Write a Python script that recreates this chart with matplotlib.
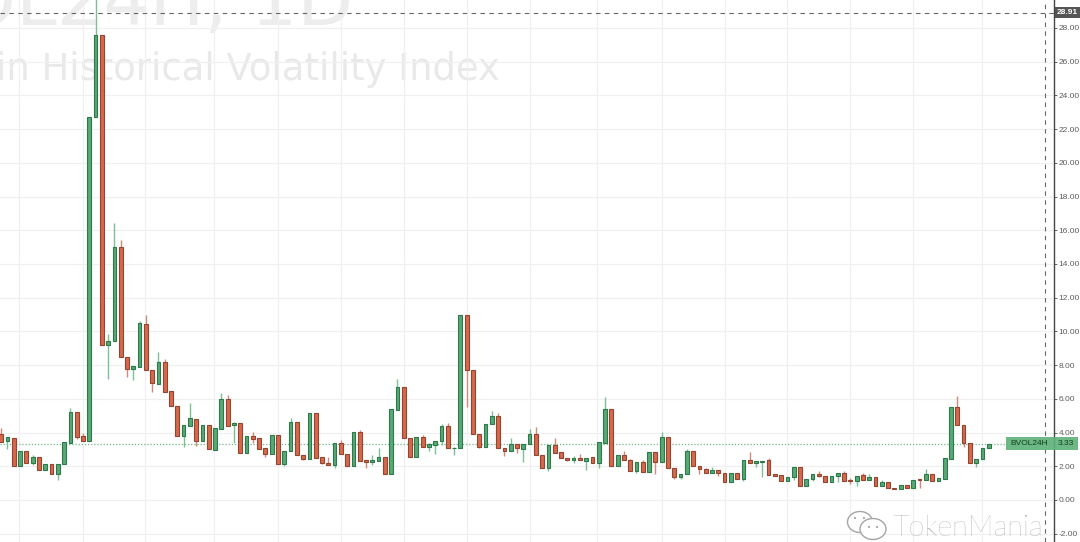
import matplotlib
matplotlib.use("Agg")
import matplotlib.pyplot as plt
from matplotlib.patches import Ellipse, Rectangle

opens = [3.92,3.48,3.70,2.04,2.93,2.22,2.57,1.80,2.12,1.54,
         2.16,3.40,5.24,3.80,3.50,22.7,27.6,9.17,9.41,15.0,
         8.46,7.77,7.89,10.44,7.73,6.90,8.16,6.45,5.60,3.82,
         4.41,4.82,3.50,4.43,2.99,4.23,5.97,4.43,4.55,2.77,
         3.80,3.66,3.07,2.73,3.84,2.12,2.93,4.65,2.67,2.45,
         5.14,2.53,2.22,2.10,3.38,2.75,2.04,4.01,2.35,2.27,
         2.31,2.53,1.56,5.36,6.68,3.70,2.55,3.76,3.16,3.28,
         3.50,4.39,3.07,3.07,10.97,7.73,3.92,3.16,4.49,4.96,
         3.10,2.91,3.30,3.05,3.32,3.92,2.65,1.92,3.24,2.83,
         2.51,2.37,2.47,2.33,2.53,2.18,3.40,5.38,2.04,2.65,
         2.38,1.74,2.24,1.69,2.83,2.28,3.72,1.88,1.39,1.53,
         2.89,2.02,1.84,1.59,1.76,1.61,1.09,1.61,1.23,2.38,
         2.18,2.28,2.36,1.53,1.47,1.15,1.39,1.98,0.85,1.23,
         1.57,1.43,1.05,1.41,1.59,1.17,1.11,1.47,1.19,1.39,
         0.83,1.05,0.70,0.66,0.87,0.70,1.25,1.21,1.57,1.15,
         1.27,2.46,5.50,4.43,3.37,2.20,2.42,3.07]
closes = [3.46,3.72,2.04,2.93,2.22,2.57,1.80,2.12,1.57,2.16,
          3.42,5.24,3.72,3.50,22.7,27.6,9.17,9.41,15.0,8.46,
          7.75,7.93,10.48,7.73,6.92,8.18,6.43,5.58,3.82,4.43,
          4.84,3.50,4.43,3.01,4.25,6.00,4.41,4.57,2.77,3.80,
          3.64,3.05,2.71,3.84,2.12,2.93,4.65,2.65,2.45,5.14,
          2.51,2.18,2.10,3.38,2.73,2.04,4.01,2.33,2.27,2.35,
          2.53,1.56,5.38,6.68,3.68,2.55,3.74,3.16,3.32,3.52,
          4.39,3.07,3.10,10.97,7.73,3.90,3.16,4.51,4.96,3.10,
          2.89,3.30,3.07,3.32,3.92,2.65,1.92,3.24,2.81,2.51,
          2.37,2.47,2.35,2.51,2.18,3.42,5.38,2.04,2.65,2.38,
          1.74,2.24,1.69,2.83,2.28,3.72,1.88,1.39,1.53,2.89,
          2.00,1.82,1.59,1.76,1.59,1.09,1.61,1.23,2.38,2.18,
          2.30,2.34,1.51,1.45,1.15,1.39,1.98,0.85,1.23,1.57,
          1.41,1.05,1.43,1.61,1.15,1.11,1.45,1.21,1.39,0.83,
          1.05,0.70,0.66,0.87,0.70,1.21,1.21,1.57,1.15,1.29,
          2.47,5.50,4.43,3.37,2.20,2.44,3.07,3.33]
highs = [4.25,3.72,3.70,2.93,2.93,2.65,2.57,2.12,2.12,2.16,
         3.42,5.44,5.24,4.00,22.7,29.7,27.6,9.82,16.4,15.4,
         8.46,7.93,10.60,10.97,7.73,8.76,8.34,6.45,5.60,4.43,
         5.77,4.82,4.43,4.43,4.25,6.37,6.23,4.60,4.55,3.80,
         4.05,3.66,3.07,3.84,3.84,2.93,4.84,4.65,2.67,5.14,
         5.14,2.53,2.53,3.38,3.56,2.75,4.01,4.15,2.35,2.67,
         3.10,2.53,5.38,7.16,6.68,3.70,3.74,3.86,3.40,3.52,
         4.51,4.55,3.16,10.97,10.97,7.73,3.92,4.51,5.28,5.14,
         3.10,3.70,3.30,3.32,4.19,4.31,2.65,3.24,3.70,2.83,
         2.51,2.61,2.73,2.51,2.53,3.42,6.09,5.38,2.65,2.93,
         2.46,2.24,2.38,2.83,2.83,4.06,3.72,1.88,1.53,3.01,
         2.89,2.02,1.90,1.94,1.76,1.61,1.61,1.61,2.38,2.85,
         2.30,2.34,2.48,1.53,1.47,1.39,1.98,1.98,1.23,1.57,
         1.74,1.43,1.43,1.61,1.74,1.29,1.45,1.63,1.55,1.39,
         1.19,1.05,0.70,0.87,0.87,1.21,1.25,1.82,1.57,1.29,
         2.47,5.50,6.17,4.43,3.37,2.44,3.07,3.33]
lows = [3.46,3.00,2.04,2.04,2.22,2.05,1.80,1.80,1.57,1.19,
        2.16,3.40,3.60,3.50,3.50,22.7,9.17,7.20,9.41,8.46,
        7.28,7.12,7.89,7.73,6.43,6.90,6.43,5.58,3.82,3.16,
        4.41,3.20,3.50,3.01,2.99,4.23,4.41,3.36,2.77,2.77,
        3.36,3.05,2.53,2.73,2.12,2.00,2.93,2.65,2.37,2.45,
        2.51,2.12,2.10,1.88,2.73,2.04,2.04,2.33,1.88,2.08,
        2.31,1.56,1.56,5.36,3.68,2.55,2.55,3.16,2.93,2.71,
        3.24,3.07,2.67,3.07,5.50,3.90,3.10,3.16,4.49,3.10,
        2.61,2.91,2.81,2.23,3.32,2.65,1.92,1.74,2.81,2.51,
        2.29,2.18,2.35,1.78,2.18,1.92,3.40,2.04,2.04,2.38,
        1.74,1.59,1.69,1.69,1.55,2.28,1.88,1.27,1.23,1.53,
        2.00,1.53,1.59,1.59,1.43,1.09,1.09,1.23,1.15,2.18,
        1.98,1.39,1.51,1.45,1.15,1.15,1.19,0.85,0.85,1.11,
        1.35,1.05,1.05,1.05,1.15,0.95,0.83,1.21,1.19,0.83,
        0.83,0.70,0.66,0.66,0.70,0.70,0.70,1.21,1.15,1.15,
        1.27,2.46,4.43,3.17,2.20,1.98,2.42,3.07]
grid_bars = [2.9, 13, 22.9, 33.9, 44, 54, 64, 74, 84, 94.7, 105, 115, 125, 135, 145, 156]
y_ticks = list(range(-2, 29, 2))
last_value = 3.33
cursor_value = 28.91
cursor_bar = 165.9
series_name = "BVOL24H"
title_main = "BVOL24H, 1D"
title_sub = "Bitcoin Historical Volatility Index"
watermark = "TokenMania"

W, H = 1080, 542
UP, UP_EDGE, UP_WICK = "#5aa876", "#2a7a4a", "#7cc096"
DN, DN_EDGE, DN_WICK = "#d4694c", "#954430", "#d08a78"
TEXT = "#5c5c5c"
plt.rcParams["font.family"] = ["Liberation Sans", "DejaVu Sans"]

fig = plt.figure(figsize=(W / 100, H / 100), dpi=100, facecolor="white")
ax = fig.add_axes([0, 0, 1054 / W, 1])
step = 6.29
ax.set_xlim(-1.2 / step, (1054 - 1.2) / step)
ax.set_ylim((500 - 542) / 16.86, 500 / 16.86)
ax.set_facecolor("white")
for s in ("top", "left", "bottom"):
    ax.spines[s].set_visible(False)
ax.spines["right"].set_color("#444444")
ax.spines["right"].set_linewidth(1.0)
ax.yaxis.tick_right()
ax.set_yticks(y_ticks)
ax.set_yticklabels([f"{v:.2f}" for v in y_ticks], fontsize=6.0, color=TEXT)
ax.tick_params(axis="y", length=2, width=0.7, color="#666666", pad=1.2)
ax.set_xticks(grid_bars)
ax.tick_params(axis="x", length=0, labelbottom=False)
ax.grid(True, color="#f0f0f0", linewidth=0.9)
ax.set_axisbelow(True)

ax.text(354 / 1054, 1 - 25 / H, title_main, transform=ax.transAxes, ha="right", va="baseline",
        fontsize=52.6, color="#ededed", family="DejaVu Sans", zorder=0.5, clip_on=True)
ax.text(500 / 1054, 1 - 80 / H, title_sub, transform=ax.transAxes, ha="right", va="baseline",
        fontsize=26.6, color="#e9e9e9", family="DejaVu Sans", zorder=0.5, clip_on=True)

ax.axhline(last_value, color="#6fb98a", linewidth=0.9, linestyle=(0, (1, 1.5)), zorder=1)
ax.axhline(cursor_value, color="#666666", linewidth=0.8, linestyle=(0, (4, 4)), zorder=1)
ax.axvline(cursor_bar, color="#666666", linewidth=0.8, linestyle=(0, (4, 4)), zorder=1)

for i, (o, c, hi, lo) in enumerate(zip(opens, closes, highs, lows)):
    up = c >= o
    ax.vlines(i, lo, hi, color=UP_WICK if up else DN_WICK, linewidth=1.0, zorder=2)
    ax.bar(i, abs(c - o), bottom=min(o, c), width=0.6, color=UP if up else DN,
           edgecolor=UP_EDGE if up else DN_EDGE, linewidth=0.8, zorder=3)

ov = fig.add_axes([0, 0, 1, 1], facecolor="none")
ov.set_xlim(0, W)
ov.set_ylim(H, 0)
ov.axis("off")

def py(v):
    return 500 - 16.86 * v

ov.add_patch(Rectangle((1055, py(cursor_value) - 5.5), 25, 11, fc="#555555", ec="none"))
ov.text(1067.5, py(cursor_value), f"{cursor_value:.2f}", ha="center", va="center", fontsize=6.0,
        color="white", fontweight="bold")
ov.add_patch(Rectangle((1006, py(last_value) - 6.5), 72, 13, fc="#5fb37c", ec="none", alpha=0.92))
ov.text(1029, py(last_value), series_name, ha="center", va="center", fontsize=6.0, color="#14401f")
ov.text(1066, py(last_value), f"{last_value:.2f}", ha="center", va="center", fontsize=6.0, color="#14401f")

ov.text(893, 536, watermark, ha="left", va="baseline", fontsize=20.8, color="#989898",
        family="Lato", fontweight="light")
for cx, cy, w, h in ((860, 522, 25, 21), (873, 529, 26, 21)):
    ov.add_patch(Ellipse((cx, cy), w, h, fc="white", ec="#a5a5a5", lw=1.0))
for cx, cy in ((855, 518), (864, 518), (869, 527), (877, 527)):
    ov.add_patch(Ellipse((cx, cy), 2.2, 2.2, fc="#a5a5a5", ec="none"))

fig.savefig("out.png", dpi=100)
